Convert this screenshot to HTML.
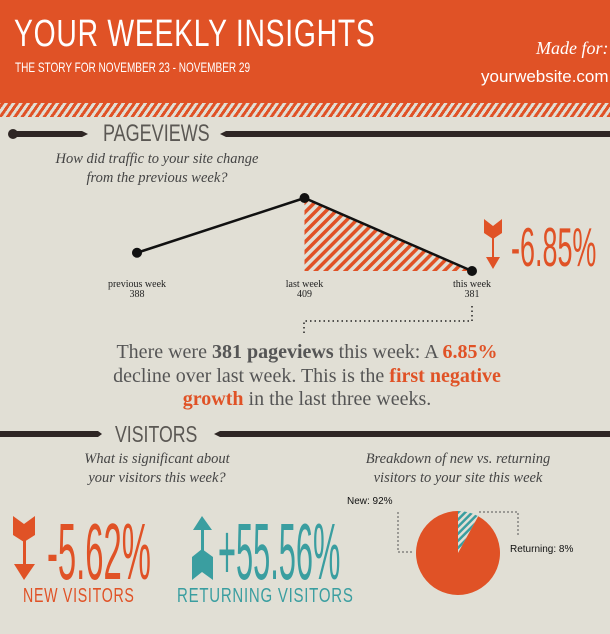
<!DOCTYPE html>
<html><head><meta charset="utf-8">
<style>
html,body{margin:0;padding:0}
body{width:610px;height:634px;overflow:hidden;background:#e1dfd5;position:relative;font-family:"Liberation Sans",sans-serif}
.abs{position:absolute;white-space:nowrap}
.cond{transform-origin:left top}
.serif{font-family:"Liberation Serif",serif}
</style></head><body>
<div class="abs" style="left:0;top:0;width:610px;height:103px;background:#e05226"></div>
<div class="abs" style="left:0;top:103px;width:610px;height:14px;background:repeating-linear-gradient(-55deg,#e05226 0 3px,#e1dfd5 3px 6px)"></div>
<div class="abs cond" style="left:14px;top:15px;font-size:38px;color:#fff;letter-spacing:1px;line-height:38px;transform:scaleX(.745)">YOUR WEEKLY INSIGHTS</div>
<div class="abs cond" style="left:15px;top:60px;font-size:14px;color:#fff;line-height:14px;transform:scaleX(.716)">THE STORY FOR NOVEMBER 23 - NOVEMBER 29</div>
<div class="abs serif" style="left:536px;top:38px;font-size:18px;font-style:italic;color:#fff">Made for:</div>
<div class="abs" style="left:481px;top:67px;font-size:17px;color:#fff">yourwebsite.com</div>

<svg class="abs" style="left:0;top:120px" width="610" height="30">
<circle cx="13" cy="14" r="5" fill="#2e2624"/><polygon points="13,11 82,11 88,14 82,17 13,17" fill="#2e2624"/>
<polygon points="220,14 226,11 610,11 610,17 226,17" fill="#2e2624"/></svg>
<div class="abs cond" style="left:103px;top:122px;font-size:24px;color:#5a5753;line-height:24px;transform:scaleX(.75)">PAGEVIEWS</div>
<div class="abs serif" style="left:17px;width:280px;top:150px;text-align:center;font-style:italic;font-size:14.5px;line-height:19px;color:#444;white-space:normal">How did traffic to your site change<br>from the previous week?</div>

<svg class="abs" style="left:0;top:0" width="610" height="634" id="chart">
<defs><pattern id="hatch" patternUnits="userSpaceOnUse" width="7" height="7" patternTransform="rotate(45)"><rect width="3.5" height="7" fill="#e05226"/></pattern>
<pattern id="hatch2" patternUnits="userSpaceOnUse" width="5" height="5" patternTransform="rotate(45)"><rect width="5" height="5" fill="#e1dfd5"/><rect width="2.5" height="5" fill="#3a9ea0"/></pattern></defs>
</svg>

<svg class="abs" style="left:482px;top:217px" width="22" height="54">
<polygon points="2,2 11,9 20,2 20,16 11,22 2,16" fill="#e05226"/><rect x="10" y="18" width="2" height="26" fill="#e05226"/><polygon points="4,40 18,40 11,52" fill="#e05226"/></svg>
<div class="abs cond" style="left:511px;top:220px;font-size:55px;color:#e05226;line-height:55px;transform:scaleX(.49)">-6.85%</div>

<svg class="abs" style="left:0;top:0" width="610" height="634">
<path d="M472,306 V321 H304 V335" fill="none" stroke="#222" stroke-width="1.5" stroke-dasharray="1.5,3"/></svg>
<div class="abs serif" style="left:40px;width:534px;top:341px;text-align:center;font-size:20px;line-height:23.5px;color:#555">There were <b>381 pageviews</b> this week: A <b style="color:#e05226">6.85%</b><br>decline over last week. This is the <b style="color:#e05226">first negative</b><br><b style="color:#e05226">growth</b> in the last three weeks.</div>

<svg class="abs" style="left:0;top:420px" width="610" height="30">
<polygon points="0,11 98,11 102,14 98,17 0,17" fill="#2e2624"/><polygon points="214,14 220,11 610,11 610,17 220,17" fill="#2e2624"/></svg>
<div class="abs cond" style="left:115px;top:423px;font-size:23px;color:#5a5753;line-height:23px;transform:scaleX(.77)">VISITORS</div>
<div class="abs serif" style="left:32px;width:250px;top:450px;text-align:center;font-style:italic;font-size:14.5px;line-height:19px;color:#444;white-space:normal">What is significant about<br>your visitors this week?</div>
<div class="abs serif" style="left:318px;width:280px;top:450px;text-align:center;font-style:italic;font-size:14.5px;line-height:19px;color:#444;white-space:normal">Breakdown of new vs. returning<br>visitors to your site this week</div>

<svg class="abs" style="left:12px;top:515px" width="26" height="66">
<polygon points="1,1 12,9 23,1 23,20 12,27 1,20" fill="#e05226"/><rect x="11" y="24" width="3" height="30" fill="#e05226"/><polygon points="2,49 23,49 12,65" fill="#e05226"/></svg>
<div class="abs cond" style="left:47px;top:512px;font-size:80px;color:#e05226;line-height:80px;transform:scaleX(.41)">-5.62%</div>
<div class="abs cond" style="left:23px;top:586px;font-size:20px;line-height:20px;color:#e05226;letter-spacing:1px;transform:scaleX(.71)">NEW VISITORS</div>

<svg class="abs" style="left:191px;top:515px" width="24" height="66">
<polygon points="11,1 2,15 21,15 " fill="#3a9ea0"/><rect x="10" y="12" width="3" height="34" fill="#3a9ea0"/><polygon points="1,42 11,34 22,42 22,65 11,57 1,65" fill="#3a9ea0"/></svg>
<div class="abs cond" style="left:218px;top:512px;font-size:80px;color:#3a9ea0;line-height:80px;transform:scaleX(.385)">+55.56%</div>
<div class="abs cond" style="left:177px;top:586px;font-size:20px;line-height:20px;color:#3a9ea0;letter-spacing:1px;transform:scaleX(.75)">RETURNING VISITORS</div>

<svg class="abs" style="left:0;top:0" width="610" height="634" id="pie">
<path d="M398,512 V552 H412" fill="none" stroke="#555" stroke-width="1" stroke-dasharray="2,2"/>
<path d="M479,512 H518 V537" fill="none" stroke="#555" stroke-width="1" stroke-dasharray="2,2"/>
<text x="347" y="504" font-size="10" font-family="Liberation Sans" fill="#111">New: 92%</text>
<text x="510" y="552" font-size="10" font-family="Liberation Sans" fill="#111">Returning: 8%</text>
</svg>

<script>
const weeks=["previous week","last week","this week"];
const pageviews=[388,409,381];
const pieLabels=["Returning","New"];
const pieValues=[8,92];

const NS="http://www.w3.org/2000/svg";
const chart=document.getElementById('chart');
const x0=137,x1=472;
function xs(i){return x0+(x1-x0)*i/(weeks.length-1);}
function ys(v){return 271-(v-381)*73/28;}
function mk(tag,attrs,parent){const e=document.createElementNS(NS,tag);for(const k in attrs)e.setAttribute(k,attrs[k]);parent.appendChild(e);return e;}
const last=pageviews.length-1;
const bottom=ys(pageviews[last]);
const area=mk('polygon',{points:`${xs(last-1)},${ys(pageviews[last-1])} ${xs(last)},${bottom} ${xs(last-1)},${bottom}`,fill:'url(#hatch)'},chart);


const line=mk('polyline',{points:pageviews.map((v,i)=>xs(i)+','+ys(v)).join(' '),fill:'none',stroke:'#111','stroke-width':2.5},chart);


pageviews.forEach((v,i)=>{
  const c=mk('circle',{cx:xs(i),cy:ys(v),r:5,fill:'#111'},chart);
  
  
  const t=mk('text',{x:xs(i),y:287,'text-anchor':'middle','font-size':10,'font-family':'Liberation Serif',fill:'#222'},chart);
  
  
  t.textContent=weeks[i];
  const t2=mk('text',{x:xs(i),y:297,'text-anchor':'middle','font-size':10,'font-family':'Liberation Serif',fill:'#222'},chart);
  
  
  t2.textContent=v;
});
const pie=document.getElementById('pie');
const cx=458,cy=553,r=42;
const total=pieValues.reduce((a,b)=>a+b,0);
let a0=0;
pieValues.forEach((v,i)=>{
  const a1=a0+v/total*2*Math.PI;
  const p=(a)=>[cx+r*Math.sin(a),cy-r*Math.cos(a)];
  const [sx,sy]=p(a0),[ex,ey]=p(a1);
  const big=(a1-a0)>Math.PI?1:0;
  const s=mk('path',{d:`M${cx},${cy} L${sx},${sy} A${r},${r} 0 ${big} 1 ${ex},${ey} Z`,fill:i===0?'url(#hatch2)':'#e05226'},pie);
  
  
  a0=a1;
});
</script>
</body></html>
